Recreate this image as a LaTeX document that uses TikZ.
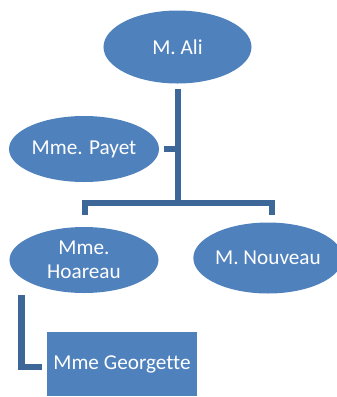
\documentclass[tikz,border=0pt]{standalone}
\usepackage{fontspec}
\setmainfont[Ligatures=NoCommon]{Carlito}
\definecolor{personfill}{HTML}{4F81BD}
\definecolor{linkcol}{HTML}{3D6798}
\usetikzlibrary{shapes.geometric}

\tikzset{
  person/.style={ellipse, fill=personfill, text=white, inner sep=0pt,
    align=center, font=\fontsize{21.3}{24}\selectfont},
  helper/.style={rectangle, fill=personfill, text=white, inner sep=0pt,
    font=\fontsize{21.3}{24}\selectfont},
  link/.style={draw=linkcol, line width=6bp},
}

\begin{document}
\begin{tikzpicture}[x=1bp, y=-1bp]
\useasboundingbox (0,0) rectangle (337,397);

% === Persons ===
\node[person, minimum width=148bp, minimum height=73bp] (ali) at (177.5,47) {M. Ali};
\node[person, minimum width=150bp, minimum height=66bp] (payet) at (84,149) {Mme. Payet};
\node[person, minimum width=149bp, minimum height=66bp] (hoareau) at (84,260) {Mme.\\Hoareau};
\node[person, minimum width=142bp, minimum height=71bp] (nouveau) at (268,258) {M. Nouveau};
\node[helper, minimum width=150bp, minimum height=64bp] (georgette) at (122,364) {Mme Georgette};

% === Connectors ===
\coordinate (branch) at (177.5,203);
\coordinate (hdrop) at (84.5,215);
\coordinate (ndrop) at (272,215);
\coordinate (hleg) at (21.5,295);

\draw[link] ([yshift=-5bp]ali.south) -- (branch);
\draw[link] ([xshift=5bp]payet.east) -- (payet.east -| branch);
\draw[link] (hdrop) |- (branch) -| (ndrop);
\draw[link] (hleg) |- ([xshift=-5bp, yshift=-3bp]georgette.west);

\end{tikzpicture}
\end{document}
